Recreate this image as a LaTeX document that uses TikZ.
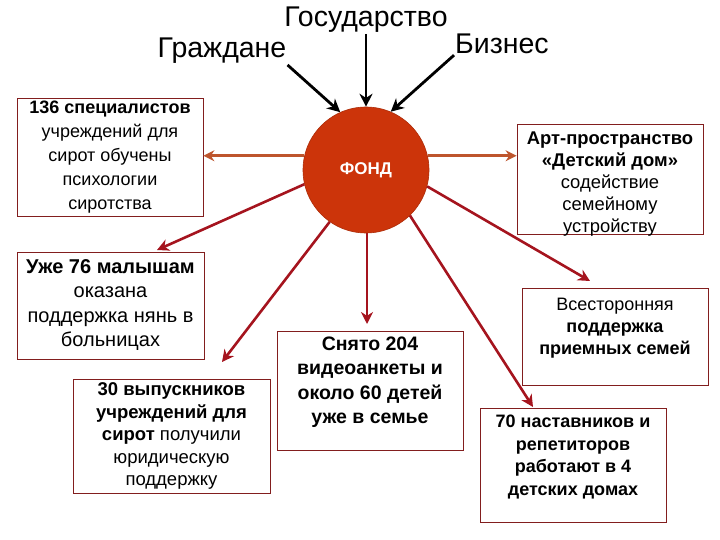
\documentclass[tikz,border=0pt]{standalone}
\usepackage{fontspec}
\setmainfont{Liberation Sans}
\usetikzlibrary{arrows.meta}
\definecolor{fondred}{RGB}{204,52,10}
\definecolor{boxline}{RGB}{130,30,30}
\definecolor{arrred}{RGB}{165,20,30}
\definecolor{arrorange}{RGB}{190,85,45}
\tikzset{
  boxnode/.style={draw=boxline, line width=0.8pt, fill=white, inner sep=0pt},
  txt/.style={align=center, inner sep=0pt, font=\fontsize{18}{24}\selectfont},
  toplabel/.style={inner sep=1pt, font=\fontsize{28.5}{30}\selectfont},
  blk/.style={draw=black, line width=2.8pt, -{Stealth[length=13pt,width=13pt]}},
  redarr/.style={draw=arrred, line width=2.6pt, -{Stealth[length=12pt,width=12pt]}},
  orarr/.style={draw=arrorange, line width=2.6pt, -{Stealth[length=11pt,width=11pt]}}
}
\begin{document}
\begin{tikzpicture}[x=1pt,y=-1pt]
\useasboundingbox (0,0) rectangle (720,540);

% top labels
\node[toplabel] (gos) at (366,20) {Государство};
\node[toplabel] (gr) at (222,51) {Граждане};
\node[toplabel] (biz) at (502,44) {Бизнес};

% fund circle
\node[circle, fill=fondred, draw=fondred!85!black, line width=0.6pt, minimum size=126pt, inner sep=0pt,
      text=white, font=\bfseries\fontsize{17}{19}\selectfont] (fond) at (366,170) {\raisebox{-3pt}{ФОНД}};

% boxes
\node[boxnode, minimum width=186pt, minimum height=118pt] (b1) at (110,157) {};
\node[boxnode, minimum width=186pt, minimum height=110pt] (b2) at (610,179) {};
\node[boxnode, minimum width=187pt, minimum height=107pt] (b3) at (110.5,305.5) {};
\node[boxnode, minimum width=197pt, minimum height=114pt] (b4) at (171.5,436) {};
\node[boxnode, minimum width=186pt, minimum height=119pt] (b5) at (370,390.5) {};
\node[boxnode, minimum width=186pt, minimum height=114pt] (b6) at (573,465) {};
\node[boxnode, minimum width=186pt, minimum height=97pt] (b7) at (615,336.5) {};

% box texts
\node[txt] (t1) at (110,157) {\textbf{136 специалистов}\\учреждений для\\сирот обучены\\психологии\\сиротства};
\node[txt, font=\fontsize{18.4}{22}\selectfont] (t2) at (610,184) {\textbf{Арт-пространство}\\\textbf{«Детский дом»}\\содействие\\семейному\\устройству};
\node[txt, font=\fontsize{20}{24.5}\selectfont] (t3) at (110.5,305) {\textbf{Уже 76 малышам}\\оказана\\поддержка нянь в\\больницах};
\node[txt, font=\fontsize{18.5}{22.5}\selectfont] (t4) at (171.5,436) {\textbf{30 выпускников}\\\textbf{учреждений для}\\\textbf{сирот} получили\\юридическую\\поддержку};
\node[txt, font=\bfseries\fontsize{19.5}{24.5}\selectfont] (t5) at (370,382) {Снято 204\\видеоанкеты и\\около 60 детей\\уже в семье};
\node[txt, font=\bfseries\fontsize{18}{22.5}\selectfont] (t6) at (573,457) {70 наставников и\\репетиторов\\работают в 4\\детских домах};
\node[txt, font=\fontsize{18}{22}\selectfont] (t7) at (615,328) {Всесторонняя\\\textbf{поддержка}\\\textbf{приемных семей}};

% endpoints
\coordinate (e3) at (157,250);
\coordinate (e4) at (222,362);
\coordinate (e5) at (367,324);
\coordinate (e7) at (590,281);
\coordinate (e6) at (533,407);

% black arrows
\draw[blk] (gr.south east) -- (fond.114);
\draw[blk] (gos.south) -- (fond.north);
\draw[blk] (biz.south west) -- (fond.67);

% orange horizontal arrows
\draw[orarr] (fond.167) -- (fond.167 -| b1.east);
\draw[orarr] (fond.13) -- (fond.13 -| b2.west);

% red arrows
\draw[redarr] (fond.193) -- (e3);
\draw[redarr] (fond.235) -- (e4);
\draw[redarr] (fond.south -| e5) -- (e5);
\draw[redarr] (fond.-15) -- (e7);
\draw[redarr] (fond.-46) -- (e6);
\end{tikzpicture}
\end{document}
